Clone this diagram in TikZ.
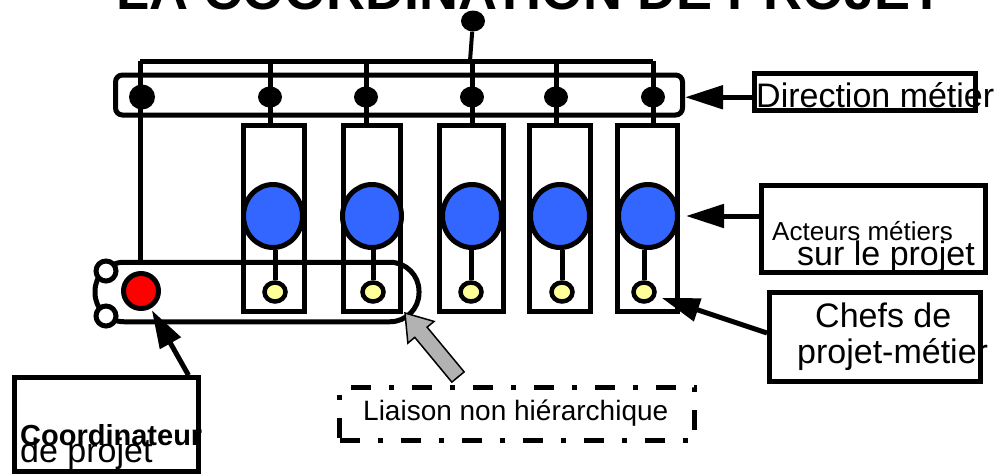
\documentclass[tikz,border=0pt]{standalone}
\usepackage{fontspec}
\setmainfont{Liberation Sans}
\usetikzlibrary{calc,arrows.meta,shapes.geometric}
\definecolor{bleuact}{RGB}{51,102,255}
\definecolor{jaunechef}{RGB}{255,255,153}
\definecolor{rougecoord}{RGB}{255,0,0}
\definecolor{grisliaison}{RGB}{178,178,178}
\tikzset{
  trait/.style={line width=5pt},
  cadre/.style={draw,line width=5pt,rectangle,inner sep=0pt},
  fleche/.style={line width=5pt,-{Triangle[length=38pt,width=23pt]}},
  point/.style={ellipse,fill=black,inner sep=0pt,minimum width=24pt,minimum height=21pt},
  acteur/.style={ellipse,draw,line width=5pt,fill=bleuact,inner sep=0pt,minimum width=59pt,minimum height=63pt},
  chef/.style={ellipse,draw,line width=4.5pt,fill=jaunechef,inner sep=0pt,minimum width=21pt,minimum height=19pt},
  rond/.style={circle,draw,line width=5pt,fill=white,inner sep=0pt,minimum size=20pt},
  texte/.style={inner sep=0pt,anchor=base west}
}
\begin{document}
\begin{tikzpicture}[x=1pt,y=-1pt]
			%%%%% START %%%%%
			\def\lw{5pt}
			\def\ytop{61}
			\def\yboite{218}
			\def\hboite{186pt}
			
			\useasboundingbox (0,0) rectangle (995,474);
			
			\node[anchor=base,inner sep=0pt] (titre) at (530,9) {\fontsize{54}{54}\selectfont\bfseries LA COORDINATION DE PROJET};
			
			% direction metier
			\coordinate (haut) at (0,\ytop);
			\node[cadre,rounded corners=7pt,minimum width=567pt,minimum height=40pt] (barre) at (399,95) {};
			\draw[trait] (140,\ytop) -- (653,\ytop);
			\node[point] (titrepoint) at (473,21) {};
			\draw[line width=4pt] (titrepoint) -- (470,\ytop);
			
			% boites des metiers
			\node[cadre,minimum width=61pt,minimum height=\hboite] (boite1) at (273.5,\yboite) {};
			\node[cadre,minimum width=57pt,minimum height=\hboite] (boite2) at (371.5,\yboite) {};
			\node[cadre,minimum width=64pt,minimum height=\hboite] (boite3) at (471,\yboite) {};
			\node[cadre,minimum width=61pt,minimum height=\hboite] (boite4) at (560,\yboite) {};
			\node[cadre,minimum width=60pt,minimum height=\hboite] (boite5) at (647,\yboite) {};
			
			\node[point,minimum width=26pt,minimum height=25pt] (dir1) at (142,97) {};
			\node[point] (dir2) at (270,97) {};
			\node[point] (dir3) at (366,97) {};
			\node[point] (dir4) at (472,97) {};
			\node[point] (dir5) at (556,97) {};
			\node[point] (dir6) at (653,97) {};
			\draw[trait] (140,\ytop) -- (140,262);
			\draw[trait] (dir2 |- haut) -- (dir2 |- boite1.north);
			\draw[trait] (dir3 |- haut) -- (dir3 |- boite2.north);
			\draw[trait] (dir4 |- haut) -- (dir4 |- boite3.north);
			\draw[trait] (dir5 |- haut) -- (dir5 |- boite4.north);
			\draw[trait] (dir6 |- haut) -- (dir6 |- boite5.north);
			
			\node[acteur] (act1) at (273,216) {};
			\node[acteur] (act2) at (372,216) {};
			\node[acteur] (act3) at (472,216) {};
			\node[acteur] (act4) at (560,216) {};
			\node[acteur] (act5) at (648,216) {};
			\node[chef] (chef1) at (275,292) {};
			\node[chef] (chef2) at (373,292) {};
			\node[chef] (chef3) at (471,292) {};
			\node[chef] (chef4) at (562,292) {};
			\node[chef] (chef5) at (644,292) {};
			\draw[trait] (act1.south -| chef1) -- (chef1);
			\draw[trait] (act2.south -| chef2) -- (chef2);
			\draw[trait] (act3.south -| chef3) -- (chef3);
			\draw[trait] (act4.south -| chef4) -- (chef4);
			\draw[trait] (act5.south -| chef5) -- (chef5);
			
			% coordination
			\node[cadre,rounded corners=29pt,minimum width=324pt,minimum height=59.5pt] (coord) at (257,292) {};
			\node[rond] (rond1) at (106,271) {};
			\node[rond] (rond2) at (106,316) {};
			\node[circle,draw,line width=\lw,fill=rougecoord,inner sep=0pt,minimum size=35pt] (coordinateur) at (141,291) {};
			
			% etiquettes
			\node[cadre,minimum width=221pt,minimum height=37.5pt] (dirbox) at (864.5,91.75) {};
			\node[texte] (dirtxt) at (756,107) {\fontsize{34}{34}\selectfont Direction métier};
			\draw[fleche] ([yshift=-5.5pt]dirbox.west) -- ([yshift=-5.5pt]dirbox.west -| barre.east);
			
			\node[cadre,minimum width=224pt,minimum height=86.5pt] (actbox) at (873,229) {};
			\node[texte] (acttxt) at (772,240) {\fontsize{26}{26}\selectfont Acteurs métiers};
			\node[texte] (acttxtb) at (797,265) {\fontsize{34}{34}\selectfont sur le projet};
			\draw[fleche,shorten >=6pt] (act5.east -| actbox.west) -- (act5.east);
			
			\node[cadre,minimum width=211pt,minimum height=88.5pt] (chefbox) at (875,337) {};
			\node[texte] (cheftxt) at (815,327) {\fontsize{34}{34}\selectfont Chefs de};
			\node[texte] (cheftxtb) at (797,363) {\fontsize{34}{34}\selectfont projet-métier};
			\draw[fleche,shorten >=6pt] ([yshift=4pt]chefbox.west) -- (chef5);
			
			\node[cadre,minimum width=184pt,minimum height=93.5pt] (coordbox) at (106,424.5) {};
			\node[texte] (coordtxtb) at (20,462) {\fontsize{34}{34}\selectfont de projet};
			\node[texte] (coordtxt) at (20,445) {\fontsize{29}{29}\selectfont\bfseries Coordinateur};
			\draw[fleche,shorten >=2pt] ([xshift=-12pt]coordbox.north east) -- (coordinateur);
			
			% liaison non hierarchique
			\node[draw,line width=5pt,dash pattern=on 20pt off 18pt on 5pt off 18pt,inner sep=0pt,minimum width=355pt,minimum height=53pt] (liaison) at (517,414) {};
			\node[texte] (liaisontxt) at (363,420) {\fontsize{28}{28}\selectfont Liaison non hiérarchique};
			\coordinate (lq) at (458,377);
			\coordinate (lt) at (405,313);
			\coordinate (hb) at ($(lt)!25pt!(lq)$);
			\draw[fill=grisliaison,line width=1.5pt,line join=miter] (lt) -- ($(hb)!17pt!90:(lq)$) -- ($(hb)!8pt!90:(lq)$) -- ($(lq)!8pt!-90:(hb)$) -- ($(lq)!8pt!90:(hb)$) -- ($(hb)!8pt!-90:(lq)$) -- ($(hb)!17pt!-90:(lq)$) -- cycle;
			%%%%% END %%%%%
		\end{tikzpicture}
\end{document}
